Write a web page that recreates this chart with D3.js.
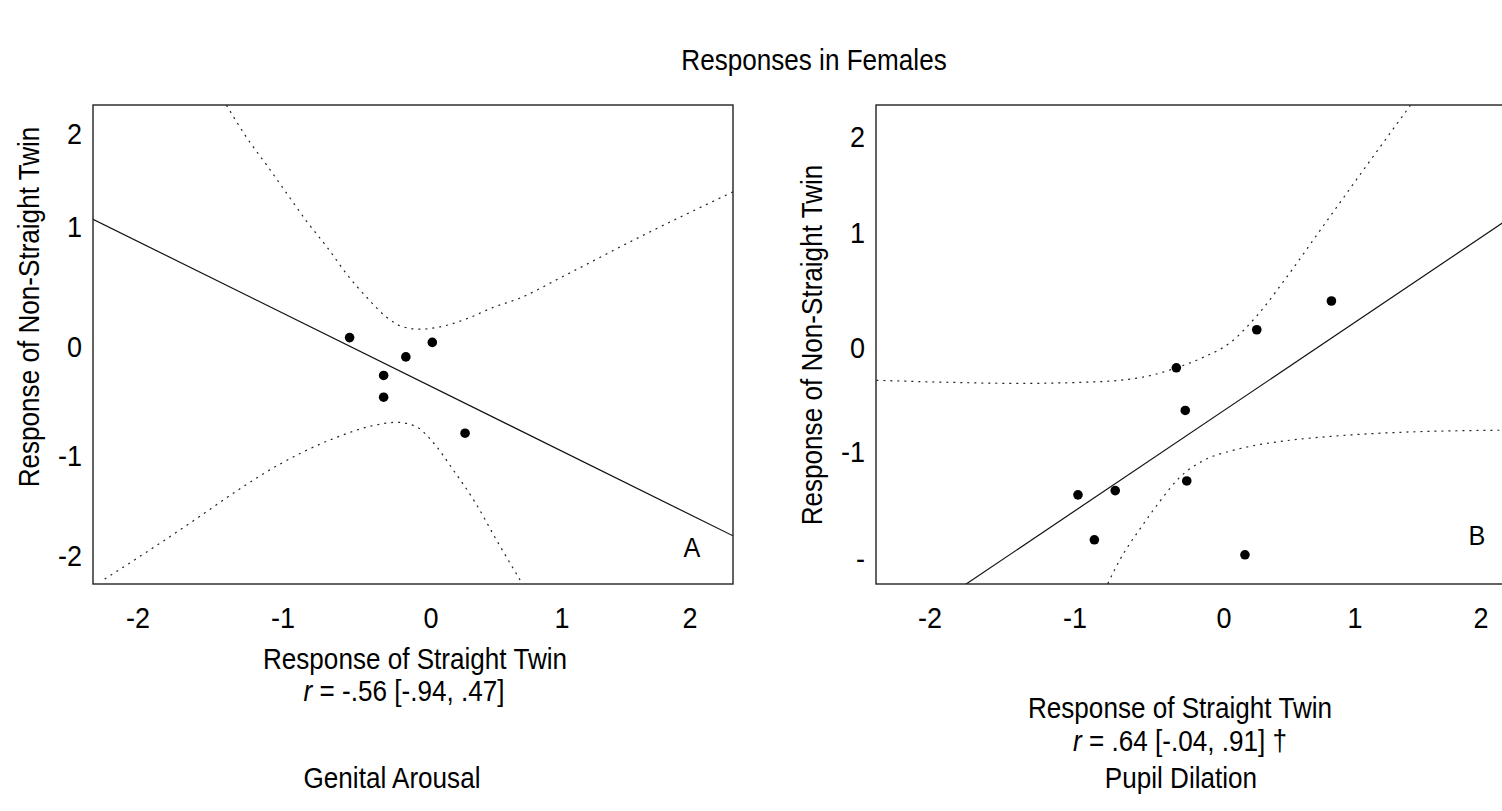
<!DOCTYPE html>
<html>
<head>
<meta charset="utf-8">
<script src="https://cdn.jsdelivr.net/npm/d3@7"></script>
<style>
  body { margin: 0; background: #fff; }
  text { font-family: "Liberation Sans", Arial, sans-serif; fill: #000; }
</style>
</head>
<body>
<script>
// ---- data ----
const tickVals = [-2, -1, 0, 1, 2];
const xTickLabels = ["-2", "-1", "0", "1", "2"];
const yTickLabelsA = ["-2", "-1", "0", "1", "2"];
const yTickLabelsB = ["-", "-1", "0", "1", "2"];   // the -2 label is printed as "-" in panel B

// Panel A: genital arousal
const genitalX = [-0.55, 0.01, -0.17, -0.32, -0.32, 0.26];
const genitalY = [0.07, 0.03, -0.10, -0.27, -0.47, -0.80];
const genitalFit = [-0.36, -0.62];   // intercept, slope
const genitalUpperX = [-1.39, -1.25, -1.11, -0.97, -0.84, -0.70, -0.57, -0.43, -0.30, -0.19, -0.07, 0.07, 0.28, 0.47, 0.68, 0.99, 1.61, 2.34];
const genitalUpperY = [2.30, 1.95, 1.65, 1.34, 1.05, 0.82, 0.60, 0.40, 0.24, 0.16, 0.14, 0.16, 0.23, 0.32, 0.40, 0.57, 0.91, 1.37];
const genitalLowerX = [-2.23, -1.94, -1.62, -1.32, -1.02, -0.66, -0.39, -0.23, -0.10, 0.02, 0.17, 0.34, 0.50, 0.68];
const genitalLowerY = [-2.24, -1.97, -1.66, -1.36, -1.09, -0.85, -0.73, -0.70, -0.74, -0.89, -1.15, -1.48, -1.85, -2.25];

// Panel B: pupil dilation
const pupilX = [0.25, -0.32, -0.26, -0.98, -0.73, -0.25, -0.87, 0.16, 0.82];
const pupilY = [0.15, -0.20, -0.61, -1.41, -1.37, -1.28, -1.83, -1.97, 0.40];
const pupilFit = [-0.77, 0.86];
const pupilUpperX = [-2.37, -1.86, -1.38, -0.97, -0.70, -0.48, -0.32, -0.14, 0.05, 0.25, 0.48, 0.73, 1.08, 1.44];
const pupilUpperY = [-0.32, -0.34, -0.35, -0.34, -0.32, -0.27, -0.20, -0.10, 0.04, 0.27, 0.61, 1.01, 1.67, 2.32];
const pupilLowerX = [-0.78, -0.70, -0.56, -0.43, -0.30, -0.14, 0.05, 0.22, 0.48, 0.81, 1.36, 2.17];
const pupilLowerY = [-2.24, -2.02, -1.72, -1.47, -1.25, -1.09, -1.00, -0.95, -0.90, -0.86, -0.82, -0.80];

// ---- layout ----
const W = 1502, H = 811;
const svg = d3.select("body").append("svg").attr("width", W).attr("height", H);

// the original type is a slightly condensed sans, so squeeze it a little
function label(parent, x, y, str, size, anchor, rot) {
  return parent.append("text")
    .attr("transform", `translate(${x},${y})` + (rot ? ` rotate(${rot})` : "") + " scale(0.9,1)")
    .attr("dy", "0.35em").attr("text-anchor", anchor || "middle")
    .style("font-size", size + "px").text(str);
}

label(svg, 814, 60, "Responses in Females", 29);

const panels = [
  { id: "A", left: 93, top: 105, w: 640, h: 479,
    xRange: [45, 190, 338, 469, 597], yRange: [450, 350, 241, 121, 28],
    yLabels: yTickLabelsA, px: genitalX, py: genitalY, fit: genitalFit,
    up: [genitalUpperX, genitalUpperY], lo: [genitalLowerX, genitalLowerY],
    ytitle: [29, 307], xtitle: [415, 659], rLine: [404, 691], rText: " = -.56 [-.94, .47]",
    caption: [392, 778, "Genital Arousal"], tag: [692, 547] },
  { id: "B", left: 876, top: 105, w: 640, h: 479,
    xRange: [54, 199, 348, 479, 605], yRange: [453, 346, 242, 127, 31],
    yLabels: yTickLabelsB, px: pupilX, py: pupilY, fit: pupilFit,
    up: [pupilUpperX, pupilUpperY], lo: [pupilLowerX, pupilLowerY],
    ytitle: [812, 345], xtitle: [1180, 708], rLine: [1180, 741], rText: " = .64 [-.04, .91] \u2020",
    caption: [1181, 778, "Pupil Dilation"], tag: [1477, 535] }
];

panels.forEach(p => {
  const x = d3.scaleLinear().domain(tickVals).range(p.xRange);
  const y = d3.scaleLinear().domain(tickVals).range(p.yRange);
  const g = svg.append("g").attr("transform", `translate(${p.left},${p.top})`);

  g.append("clipPath").attr("id", "clip" + p.id)
    .append("rect").attr("width", p.w).attr("height", p.h);
  const plot = g.append("g").attr("clip-path", `url(#clip${p.id})`);

  // regression line across the box
  const x0 = x.invert(0), x1 = x.invert(p.w);
  const line = d3.line().x(d => x(d[0])).y(d => y(d[1]));
  plot.append("path")
    .attr("d", line([[x0, p.fit[0] + p.fit[1] * x0], [x1, p.fit[0] + p.fit[1] * x1]]))
    .attr("fill", "none").attr("stroke", "#111").attr("stroke-width", 1.2);

  // confidence bands
  const curve = d3.line().x(d => x(d[0])).y(d => y(d[1])).curve(d3.curveMonotoneX);
  [p.up, p.lo].forEach(b => {
    plot.append("path")
      .attr("d", curve(d3.zip(b[0], b[1])))
      .attr("fill", "none").attr("stroke", "#222").attr("stroke-width", 1.2)
      .attr("stroke-dasharray", "2,5");
  });

  // points
  plot.selectAll("circle").data(d3.zip(p.px, p.py)).join("circle")
    .attr("cx", d => x(d[0])).attr("cy", d => y(d[1])).attr("r", 4.8).attr("fill", "#000");

  // box
  g.append("rect").attr("width", p.w).attr("height", p.h)
    .attr("fill", "none").attr("stroke", "#222").attr("stroke-width", 1.4);

  // tick labels
  tickVals.forEach((v, i) => {
    label(g, x(v), p.h + 33, xTickLabels[i], 30);
    label(g, -11, y(v), p.yLabels[i], 30, "end");
  });

  // titles
  label(svg, p.ytitle[0], p.ytitle[1], "Response of Non-Straight Twin", 29, "middle", -90);
  label(svg, p.xtitle[0], p.xtitle[1], "Response of Straight Twin", 29);
  const r = label(svg, p.rLine[0], p.rLine[1], "", 29);
  r.append("tspan").style("font-style", "italic").text("r");
  r.append("tspan").text(p.rText);
  label(svg, p.caption[0], p.caption[1], p.caption[2], 29);
  label(svg, p.tag[0], p.tag[1], p.id, 28);
});
</script>
</body>
</html>
